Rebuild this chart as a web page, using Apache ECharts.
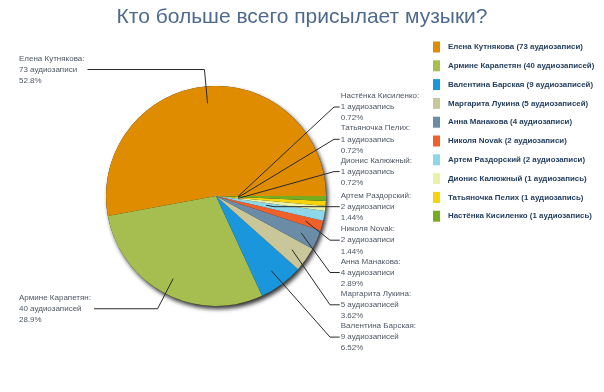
<!DOCTYPE html>
<html><head><meta charset="utf-8">
<script src="https://cdn.jsdelivr.net/npm/echarts@6/dist/echarts.min.js"></script>
<style>html,body{margin:0;padding:0;background:#fff}#c{width:604px;height:392px}</style>
</head><body><div id="c"></div>
<script>
const names = ['Елена Кутнякова','Армине Карапетян','Валентина Барская','Маргарита Лукина','Анна Манакова','Николя Novak','Артем Раздорский','Дионис Калюжный','Татьяночка Пелих','Настёнка Кисиленко'];
const counts = [73,40,9,5,4,2,2,1,1,1];
const countTexts = ['73 аудиозаписи','40 аудиозаписей','9 аудиозаписей','5 аудиозаписей','4 аудиозаписи','2 аудиозаписи','2 аудиозаписи','1 аудиозапись','1 аудиозапись','1 аудиозапись'];
const pctTexts = ['52.8%','28.9%','6.52%','3.62%','2.89%','1.44%','1.44%','0.72%','0.72%','0.72%'];
const colors = ['#e08c00','#a6bd4f','#1a97dc','#c9c79a','#6a8ca6','#f0602a','#8ed6ea','#eaf2a8','#f8d20a','#74ad1f'];
const titleText = 'Кто больше всего присылает музыки?';

// layout / style
const W = 604, H = 392;
const CX = 216, CY = 196, R = 110;
const FONT = 'Liberation Sans';
const LH = 11.1;               // line height of labels
const SLOT = 3 * LH;           // label slot height
const SLOT0 = 106;             // centre of first right label
const TEXT_X = 340.7;          // left x of right labels
const BOX_W = 90;

const total = counts.reduce((a, b) => a + b, 0);
const midAngles = [];
{ let acc = 0; counts.forEach(v => { midAngles.push((acc + v / 2) / total * 360); acc += v; }); }

const baseTok = { align: 'left', color: '#4d5763', fontSize: 8, fontFamily: FONT, lineHeight: LH };
const richLeft = { t: baseTok };
const richRight = { t: Object.assign({}, baseTok, { width: BOX_W }) };
const fmt = p => '{t|' + names[p.dataIndex] + ':}\n{t|' + countTexts[p.dataIndex] + '}\n{t|' + pctTexts[p.dataIndex] + '}';

function band(firstSlot, n, extraBottom) {
  return { top: SLOT0 + firstSlot * SLOT - SLOT / 2, height: n * SLOT + (extraBottom || 0) };
}

const groups = [
  Object.assign({ items: [0, 1], r: 93, side: 'left', len: () => 34 }, { top: 0, height: H }),
  Object.assign({ items: [7, 8, 9], r: 22, side: 'right', x1: 334 }, band(0, 3)),
  Object.assign({ items: [6], r: 51, side: 'right', len: () => 8 }, { top: 0, height: H }),
  Object.assign({ items: [2, 3, 4, 5], r: 93, side: 'right', x1: 330 }, band(4, 4, 1.5))
];

function labelSeries(g) {
  const common = { show: true, position: 'outside', alignTo: 'edge', formatter: fmt,
                   fontSize: 8, fontFamily: FONT, lineHeight: LH, color: '#4d5763' };
  return {
    type: 'pie', silent: true, z: 5,
    left: 0, width: W, top: g.top, height: g.height,
    center: [CX, CY - g.top], radius: g.r,
    clockwise: false, startAngle: 0,
    avoidLabelOverlap: true,
    labelLayout: { hideOverlap: false },
    itemStyle: { color: 'rgba(0,0,0,0)' },
    emphasis: { disabled: true },
    label: g.side === 'left'
      ? Object.assign({}, common, { edgeDistance: 19, distanceToLabelLine: 3, rich: richLeft })
      : Object.assign({}, common, { edgeDistance: W - TEXT_X - BOX_W, distanceToLabelLine: 1, rich: richRight }),
    labelLine: { show: true, length2: 4, lineStyle: { color: '#2a2a2a', width: 1 } },
    data: counts.map((v, i) => {
      const inG = g.items.indexOf(i) >= 0;
      if (!inG) return { value: v, name: names[i], label: { show: false }, labelLine: { show: false } };
      const rad = midAngles[i] * Math.PI / 180;
      const len = g.len ? g.len(i) : (g.x1 - CX) / Math.cos(rad) - g.r;
      return { value: v, name: names[i], labelLine: { length: len } };
    })
  };
}

const chart = echarts.init(document.getElementById('c'), null, { renderer: 'canvas' });
chart.setOption({
  animation: false,
  backgroundColor: '#ffffff',
  title: {
    text: titleText, left: 'center', top: 2,
    textStyle: { fontFamily: FONT, fontSize: 21, fontWeight: 'normal', color: '#4e6a8c' }
  },
  legend: {
    orient: 'vertical', left: 428, top: 36.5,
    itemWidth: 7, itemHeight: 11, itemGap: 7.8, icon: 'rect',
    data: names,
    formatter: n => n + ' (' + countTexts[names.indexOf(n)] + ')',
    textStyle: { fontFamily: FONT, fontSize: 7.9, fontWeight: 'bold', color: '#1f3a5a', padding: [0, 0, 0, 3] }
  },
  series: [
    {
      type: 'pie', name: 'main', silent: true, z: 3,
      center: [CX, CY], radius: R, clockwise: false, startAngle: 0,
      label: { show: false }, labelLine: { show: false },
      emphasis: { disabled: true },
      data: counts.map((v, i) => ({ value: v, name: names[i], itemStyle: { color: colors[i] } }))
    },
    ...groups.map(labelSeries),
    {
      type: 'pie', name: 'shadow', silent: true, z: 1,
      center: [CX, CY], radius: R, label: { show: false }, labelLine: { show: false },
      emphasis: { disabled: true },
      itemStyle: { color: '#222', shadowColor: 'rgba(0,0,0,0.8)', shadowBlur: 4, shadowOffsetX: 2, shadowOffsetY: 3 },
      data: [{ value: 1, name: 'shadow' }]
    }
  ]
});
</script>
</body></html>
